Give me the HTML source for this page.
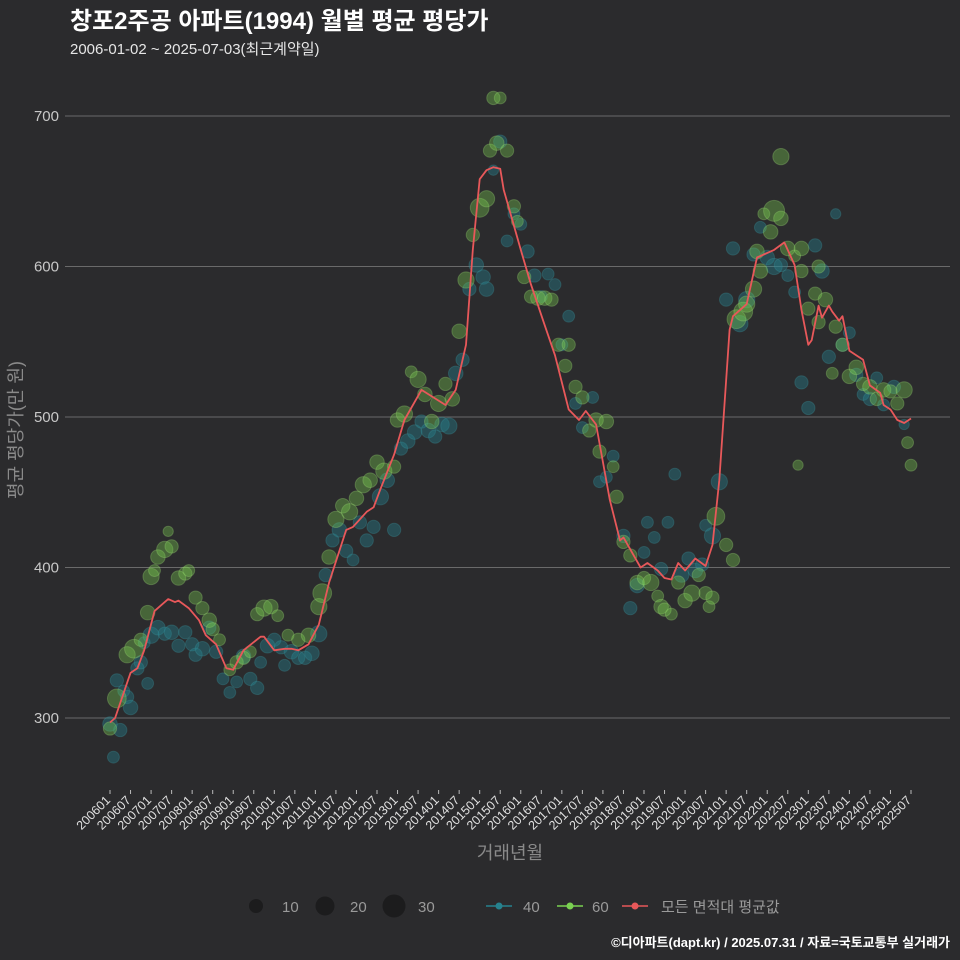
<!DOCTYPE html>
<html><head><meta charset="utf-8"><style>
html,body{margin:0;padding:0;background:#2b2b2d;}
svg{display:block;font-family:"Liberation Sans","Noto Sans CJK KR",sans-serif;}
</style></head><body>
<svg id="chart" width="960" height="960" viewBox="0 0 960 960" xmlns="http://www.w3.org/2000/svg">
<rect width="960" height="960" fill="#2b2b2d"/>
<text x="70" y="29" fill="#ffffff" font-size="24" font-weight="bold">창포2주공 아파트(1994) 월별 평균 평당가</text>
<text x="70" y="54" fill="#e6e6e6" font-size="15">2006-01-02 ~ 2025-07-03(최근계약일)</text>
<g id="grid"></g>
<g id="yticks"></g>
<g id="xticks"></g>
<g id="bubbles"></g>
<path id="avgline" fill="none" stroke="#e8585a" stroke-width="1.8" stroke-linejoin="round"/>
<text transform="translate(22,430) rotate(-90)" text-anchor="middle" fill="#8a8a8a" font-size="18">평균 평당가(만 원)</text>
<text x="510" y="859" text-anchor="middle" fill="#8a8a8a" font-size="18">거래년월</text>
<g>
 <g><circle cx="256" cy="906" r="7" fill="#1c1c1d"/><text x="282" y="912" fill="#9a9a9a" font-size="15">10</text></g>
 <g><circle cx="325" cy="906" r="9.5" fill="#1c1c1d"/><text x="350" y="912" fill="#9a9a9a" font-size="15">20</text></g>
 <g><circle cx="394" cy="906" r="11.5" fill="#1c1c1d"/><text x="418" y="912" fill="#9a9a9a" font-size="15">30</text></g>
 <g><line x1="486" y1="906" x2="512" y2="906" stroke="#26828e" stroke-width="1.5"/><circle cx="499" cy="906" r="3.5" fill="#26828e"/><text x="523" y="912" fill="#9a9a9a" font-size="15">40</text></g>
 <g><line x1="557" y1="906" x2="583" y2="906" stroke="#7ad151" stroke-width="1.5"/><circle cx="570" cy="906" r="3.5" fill="#7ad151"/><text x="592" y="912" fill="#9a9a9a" font-size="15">60</text></g>
 <g><line x1="622" y1="906" x2="648" y2="906" stroke="#e8585a" stroke-width="1.5"/><circle cx="635" cy="906" r="3.5" fill="#e8585a"/><text x="661" y="912" fill="#9a9a9a" font-size="15">모든 면적대 평균값</text></g>
</g>
<text x="950" y="947" text-anchor="end" fill="#ffffff" font-size="13" font-weight="bold">©디아파트(dapt.kr) / 2025.07.31 / 자료=국토교통부 실거래가</text>
</svg>
<script>
const yTicks=[300,400,500,600,700];
const xTickLabels=["200601","200607","200701","200707","200801","200807","200901","200907","201001","201007","201101","201107","201201","201207","201301","201307","201401","201407","201501","201507","201601","201607","201701","201707","201801","201807","201901","201907","202001","202007","202101","202107","202201","202207","202301","202307","202401","202407","202501","202507"];
const avgMonths=[0,1.5,6,8,10,13,15,17,19,20,23,26,28,31,34,36,39,44,45,48,51,53,55,58,61,64,69,71,75,77,79,83,86,91,98,101,104,106,108,110,112,114,115,120,123,127,130,134,137,139,142,146,149,150,155,157,160,162,164,166,168,171,174,176,178,181,182,186,189,191,194,197,200,202,204,205,207,208,210,211,213,214,216,218,220,222,225,226,228,230,232,234];
const avgValues=[297,300,330,333,345,371,375,379,377,378,373,365,355,349,333,332,345,354,354,345,346,346,345,349,362,390,425,427,437,440,452,475,498,518,508,518,548,611,658,664,666,665,651,611,588,561,541,505,498,504,495,445,418,420,400,403,398,393,392,403,398,406,401,415,458,558,567,575,606,608,611,616,601,571,548,551,574,566,574,570,564,567,544,541,538,521,516,508,505,498,496,499];
const green=[[0,293,10],[2,313,20],[5,342,15],[7,346,20],[9,352,10],[11,370,12],[12,394,15],[13,398,8],[14,407,12],[16,412,15],[17,424,6],[18,414,10],[20,393,12],[22,396,10],[23,398,8],[25,380,10],[27,373,10],[29,365,12],[30,359,10],[32,352,8],[35,332,8],[37,337,10],[39,340,10],[41,344,8],[43,369,10],[45,373,15],[47,374,12],[49,368,8],[52,355,8],[55,352,10],[58,355,12],[61,374,15],[62,383,20],[64,407,12],[66,432,15],[68,441,12],[70,437,15],[72,446,12],[74,455,15],[76,458,12],[78,470,12],[80,464,15],[83,467,10],[84,498,12],[86,502,15],[88,530,8],[90,525,15],[92,515,12],[94,497,12],[96,509,15],[98,522,10],[100,512,12],[102,557,12],[104,591,15],[106,621,10],[108,639,20],[110,645,15],[111,677,10],[112,712,10],[113,682,12],[114,712,8],[116,677,10],[118,640,10],[119,630,8],[121,593,10],[123,580,10],[125,579,12],[127,579,12],[129,578,10],[131,548,10],[133,534,10],[134,548,10],[136,520,10],[138,513,10],[140,491,10],[142,498,12],[143,477,10],[145,497,12],[147,467,8],[148,447,10],[150,417,10],[152,408,10],[154,390,12],[156,393,10],[158,390,15],[160,381,8],[161,374,12],[162,372,10],[164,369,8],[166,390,10],[168,378,12],[170,383,15],[172,395,10],[174,383,10],[175,374,8],[176,380,10],[177,434,18],[180,415,10],[182,405,10],[183,565,20],[185,570,20],[186,575,15],[188,585,15],[189,610,12],[190,597,12],[191,635,8],[193,623,12],[194,637,25],[196,632,12],[196,673,15],[198,612,12],[200,607,8],[202,597,10],[202,612,12],[204,572,10],[206,582,10],[207,563,10],[207,600,10],[209,578,12],[211,529,8],[212,560,10],[214,548,10],[216,527,12],[218,533,12],[220,522,10],[222,520,12],[224,512,10],[226,518,12],[228,517,10],[230,509,10],[232,518,15],[233,483,8],[234,468,8],[201,468,6]];
const teal=[[0,296,12],[1,274,8],[2,325,10],[3,292,10],[4,318,8],[5,314,10],[6,307,12],[8,333,10],[9,337,10],[10,350,8],[11,323,8],[12,355,15],[14,360,12],[16,356,10],[18,357,12],[20,348,10],[22,357,10],[24,349,10],[25,342,10],[27,346,12],[29,360,10],[31,344,10],[33,326,8],[35,317,8],[37,324,8],[39,341,12],[41,326,10],[43,320,10],[44,337,8],[46,348,12],[48,352,10],[50,347,10],[51,335,8],[53,344,12],[55,340,10],[57,340,10],[59,343,12],[61,356,15],[63,395,10],[65,418,10],[67,425,12],[69,411,10],[71,405,8],[73,430,10],[75,418,10],[77,427,10],[79,447,15],[81,458,12],[83,425,10],[85,479,10],[87,484,12],[89,490,12],[91,497,10],[93,491,12],[95,487,10],[97,495,12],[99,494,15],[101,529,12],[103,538,10],[105,585,10],[107,601,12],[109,593,12],[110,585,12],[112,664,6],[114,683,10],[116,617,8],[118,635,8],[120,628,8],[122,610,10],[124,594,10],[126,580,8],[128,595,8],[130,588,8],[132,548,8],[134,567,8],[136,509,8],[138,493,8],[141,513,8],[143,457,8],[145,460,8],[147,474,8],[150,421,10],[152,373,10],[154,388,12],[156,410,8],[157,430,8],[159,420,8],[161,399,10],[163,430,8],[165,462,8],[167,395,12],[169,406,10],[171,398,12],[173,402,10],[174,428,8],[176,421,15],[178,457,15],[180,578,10],[182,612,10],[184,562,15],[186,578,15],[188,608,10],[190,626,8],[192,606,12],[194,600,15],[196,601,10],[198,594,8],[200,583,8],[202,523,10],[204,506,10],[206,614,10],[208,597,12],[210,540,10],[212,635,6],[214,548,10],[216,556,8],[218,528,10],[220,515,8],[222,512,10],[224,526,8],[226,508,8],[229,520,10],[232,495,6]];

const NS="http://www.w3.org/2000/svg";
function xs(m){return 110+m*(801/234);}
function ys(v){return 718-(v-300)*1.505;}
const grid=document.getElementById('grid'),yt=document.getElementById('yticks'),xt=document.getElementById('xticks'),bub=document.getElementById('bubbles');
yTicks.forEach(v=>{
 const l=document.createElementNS(NS,'line');
 l.setAttribute('x1',65);l.setAttribute('x2',950);l.setAttribute('y1',ys(v));l.setAttribute('y2',ys(v));
 l.setAttribute('stroke','#6a6a6a');l.setAttribute('stroke-width','1');
 
 
 grid.appendChild(l);
 const t=document.createElementNS(NS,'text');
 t.setAttribute('x',59);t.setAttribute('y',ys(v)+5);t.setAttribute('text-anchor','end');
 t.setAttribute('fill','#c8c8c8');t.setAttribute('font-size','15');t.textContent=v;
 
 
 yt.appendChild(t);
});
xTickLabels.forEach((lab,i)=>{
 const x=xs(i*6);
 const l=document.createElementNS(NS,'line');
 l.setAttribute('x1',x);l.setAttribute('x2',x);l.setAttribute('y1',790);l.setAttribute('y2',794);
 l.setAttribute('stroke','#bbb');
 
 
 xt.appendChild(l);
 const t=document.createElementNS(NS,'text');
 t.setAttribute('transform','translate('+(x+1)+',801) rotate(-45)');
 t.setAttribute('text-anchor','end');t.setAttribute('fill','#e0e0e0');t.setAttribute('font-size','12.5');
 t.textContent=lab;
 
 
 xt.appendChild(t);
});
function drawB(arr,fill,stroke,name){
 arr.forEach(p=>{
  const c=document.createElementNS(NS,'circle');
  c.setAttribute('cx',xs(p[0]));c.setAttribute('cy',ys(p[1]));c.setAttribute('r',2.1*Math.sqrt(p[2]));
  c.setAttribute('fill',fill);c.setAttribute('stroke',stroke);c.setAttribute('stroke-width','1');
  
  
  bub.appendChild(c);
 });
}
drawB(teal,'rgba(38,130,142,0.4)','rgba(60,150,160,0.3)','bubble-40');
drawB(green,'rgba(122,209,81,0.35)','rgba(160,220,120,0.3)','bubble-60');
document.getElementById('avgline').setAttribute('d',avgMonths.map((m,i)=>(i?'L':'M')+xs(m).toFixed(1)+','+ys(avgValues[i]).toFixed(1)).join(''));
</script>
</body></html>
